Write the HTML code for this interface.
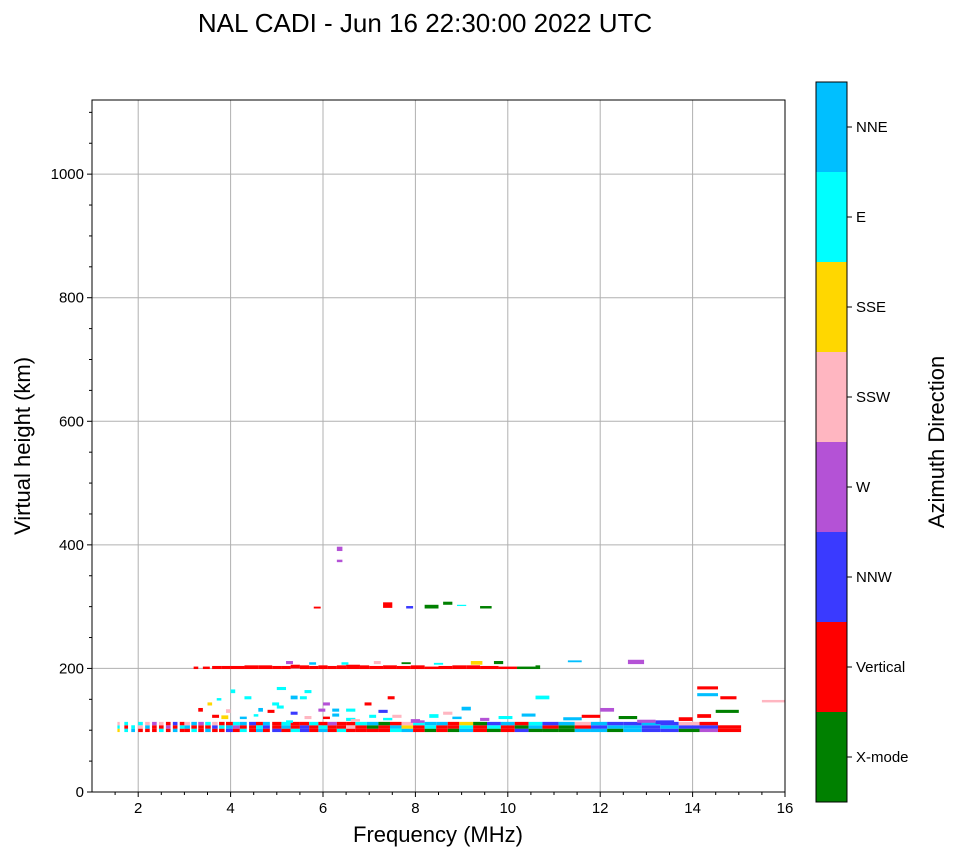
<!DOCTYPE html>
<html><head><meta charset="utf-8"><style>
body{margin:0;background:#fff;}
svg text{font-family:"Liberation Sans","DejaVu Sans",sans-serif;}
</style></head><body>
<svg id="chart" width="958" height="857" xmlns="http://www.w3.org/2000/svg">
<text x="425" y="32" font-size="26" text-anchor="middle">NAL CADI - Jun 16 22:30:00 2022 UTC</text>
<g id="grid"></g>
<g id="marks"></g>
<rect x="92" y="100" width="693" height="692" fill="none" stroke="#000" stroke-width="1"/>
<g id="axes"></g>
<text x="438" y="842" font-size="22" text-anchor="middle">Frequency (MHz)</text>
<text transform="translate(30,446) rotate(-90)" font-size="22" text-anchor="middle">Virtual height (km)</text>
<g id="cbar"></g>
<text transform="translate(944,442) rotate(-90)" font-size="22" text-anchor="middle">Azimuth Direction</text>
</svg>
<script>
const directions = ["X-mode","Vertical","NNW","W","SSW","SSE","E","NNE"];
const dirColors = ["#008000","#ff0000","#3a3aff","#b452d6","#ffb6c1","#ffd700","#00ffff","#00bfff"];
const xTicks = [2,4,6,8,10,12,14,16];
const yTicks = [0,200,400,600,800,1000];
// main low layer columns: start freq, width, stacked direction indices
const colF = [1.55,1.7,1.85,2.0,2.15,2.3,2.45,2.6,2.75,2.9,3.0,3.15,3.3,3.45,3.6,3.75,3.9,4.05,4.2,4.4,4.55,4.7,4.9,5.1,5.3,5.5,5.7,5.9,6.1,6.3,6.5,6.7,6.95,7.2,7.45,7.7,7.95,8.2,8.45,8.7,8.95,9.25,9.55,9.85,10.15,10.45,10.75,11.1,11.45,11.8,12.15,12.5,12.9,13.3,13.7,14.15,14.55];
const colW = [0.05,0.08,0.08,0.1,0.1,0.1,0.1,0.1,0.1,0.1,0.12,0.12,0.12,0.12,0.12,0.12,0.15,0.15,0.15,0.15,0.15,0.15,0.2,0.2,0.2,0.2,0.2,0.2,0.2,0.2,0.2,0.25,0.25,0.25,0.25,0.25,0.25,0.25,0.25,0.25,0.3,0.3,0.3,0.3,0.3,0.3,0.35,0.35,0.35,0.35,0.35,0.4,0.4,0.4,0.45,0.4,0.5];
const colDirs = [[5,6,4],[6,1,6],[7,6],[1,4,6],[1,7,4],[1,1,3],[6,1,4],[1,3,1],[7,1,2],[1,6,1],[1,7,4],[6,1,7],[1,1,3],[7,1,6],[1,2,4],[1,6,1],[2,7,1],[1,3,6],[6,1,7],[1,1,2],[7,6,1],[1,2,7],[2,1,1],[1,7,6],[6,1,1],[2,2,1],[1,1,6],[7,6,1],[1,1,3],[6,1,1],[1,4,1],[1,1,6],[1,0,7],[1,1,0],[6,7,1],[7,5,4],[1,1,6],[0,6,7],[1,1,7],[0,1,1],[7,6,5],[1,1,0],[0,6,2],[1,1,7],[2,0,1],[0,7,6],[0,1,2],[0,0,7],[7,1,4],[7,2,7],[0,7,2],[7,7,2],[2,2,7],[2,7,2],[0,2,4],[3,2,1],[1,1]];
// scattered cells: freq start, freq end, height low, height high, direction
const sF0 = [3.2,3.4,3.6,3.8,4.0,4.3,4.6,4.9,5.1,5.3,5.5,5.7,5.9,6.1,6.3,6.5,6.8,7.0,7.3,7.6,7.9,8.2,8.5,8.8,9.1,9.4,9.8,10.2,10.6,3.5,3.7,3.9,4.2,4.5,4.8,5.0,5.3,5.6,5.9,6.2,6.5,6.9,7.2,7.5,7.9,8.3,8.6,9.0,9.4,9.8,10.3,10.6,11.2,11.6,12.0,12.4,12.8,13.2,13.7,14.1,14.5,15.5,5.8,7.3,7.8,8.2,8.6,8.9,9.4,6.3,6.3,12.6,11.3,14.1,14.6,14.1,3.6,3.8,4.3,5.0,5.3,5.6,6.0,6.5,7.0,4.0,4.6,5.5,6.2,7.4,3.3,4.9,5.2,5.7,6.4,7.1,7.7,8.4,9.2,9.7,5.2,6.0,6.6,7.3,8.0,8.8];
const sF1 = [3.3,3.55,3.8,4.0,4.3,4.6,4.9,5.1,5.3,5.5,5.7,5.9,6.1,6.3,6.5,6.8,7.0,7.3,7.6,7.9,8.2,8.5,8.8,9.1,9.4,9.8,10.2,10.6,10.7,3.6,3.8,4.0,4.35,4.6,4.95,5.15,5.45,5.75,6.05,6.35,6.7,7.05,7.4,7.7,8.1,8.5,8.8,9.2,9.6,10.1,10.6,10.9,11.6,12.0,12.3,12.8,13.2,13.6,14.0,14.4,15.0,16.0,5.95,7.5,7.95,8.5,8.8,9.1,9.65,6.42,6.42,12.95,11.6,14.55,14.95,14.55,3.75,3.95,4.45,5.2,5.45,5.75,6.15,6.7,7.15,4.1,4.7,5.65,6.35,7.55,3.4,5.05,5.35,5.85,6.55,7.25,7.9,8.6,9.45,9.9,5.35,6.15,6.8,7.5,8.2,9.0];
const sH0 = [199,199,199,199,199,199,199,199,199,200,199,199,199,199,199,199,199,199,199,199,199,199,199,199,199,199,199,199,199,140,148,128,118,122,128,135,125,118,130,122,115,140,128,120,112,120,125,132,115,118,122,150,116,120,130,118,112,110,115,120,128,145,297,298,297,297,303,301,297,390,372,207,210,166,150,155,120,118,150,165,150,160,140,130,120,160,130,150,130,150,130,140,207,206,206,207,207,206,206,207,112,118,114,116,112,118];
const sH1 = [203,203,204,204,204,205,205,204,204,206,205,204,205,204,205,206,205,204,205,204,205,203,204,205,205,204,203,203,205,145,152,134,122,126,133,140,130,123,135,127,120,145,133,125,118,126,130,138,120,123,127,156,121,125,136,123,117,116,121,126,133,149,300,307,301,303,308,303,301,397,376,214,213,171,155,160,125,124,155,170,156,165,145,135,125,166,136,155,135,155,136,145,212,210,210,212,210,209,212,212,116,122,118,120,116,122];
const sDir = [1,1,1,1,1,1,1,1,1,1,1,1,1,1,1,1,1,1,1,1,1,1,1,1,1,1,1,0,0,5,6,4,7,6,1,6,2,4,3,7,6,1,2,4,3,6,4,7,3,6,7,6,7,1,3,0,3,2,1,1,0,4,1,1,2,0,0,6,0,3,3,3,7,1,1,7,1,5,6,6,7,6,3,6,6,6,7,6,7,1,1,6,3,7,6,4,0,6,5,0,6,1,4,6,3,7];

const X0=92,X1=785,Y0=792,Y1=100,XMIN=1,XMAX=16,YMIN=0,YMAX=1120;
const xs=f=>X0+(f-XMIN)/(XMAX-XMIN)*(X1-X0);
const ys=h=>Y0-(h-YMIN)/(YMAX-YMIN)*(Y0-Y1);
const NS="http://www.w3.org/2000/svg";
function mk(tag,parent){const e=document.createElementNS(NS,tag);parent.appendChild(e);return e;}
const grid=document.getElementById('grid'),axes=document.getElementById('axes'),marks=document.getElementById('marks'),cbar=document.getElementById('cbar');
xTicks.forEach(t=>{
  const x=xs(t);
  if(t<XMAX){const g=mk('line',grid);g.setAttribute('x1',x);g.setAttribute('x2',x);g.setAttribute('y1',Y1);g.setAttribute('y2',Y0);g.setAttribute('stroke','#b0b0b0');
  
  }
  const tk=mk('line',axes);tk.setAttribute('x1',x);tk.setAttribute('x2',x);tk.setAttribute('y1',Y0);tk.setAttribute('y2',Y0+5);tk.setAttribute('stroke','#000');
  
  
  const tx=mk('text',axes);tx.setAttribute('x',x);tx.setAttribute('y',Y0+21);tx.setAttribute('font-size','15');tx.setAttribute('text-anchor','middle');tx.textContent=t;
  
  
});
for(let m=1.5;m<XMAX;m+=0.5){if(Math.abs(m-Math.round(m/2)*2)<0.01)continue;const x=xs(m);const tk=mk('line',axes);tk.setAttribute('x1',x);tk.setAttribute('x2',x);tk.setAttribute('y1',Y0);tk.setAttribute('y2',Y0+3);tk.setAttribute('stroke','#000');
  
  }
yTicks.forEach(t=>{
  const y=ys(t);
  if(t>0){const g=mk('line',grid);g.setAttribute('x1',X0);g.setAttribute('x2',X1);g.setAttribute('y1',y);g.setAttribute('y2',y);g.setAttribute('stroke','#b0b0b0');
  
  }
  const tk=mk('line',axes);tk.setAttribute('x1',X0-5);tk.setAttribute('x2',X0);tk.setAttribute('y1',y);tk.setAttribute('y2',y);tk.setAttribute('stroke','#000');
  
  
  const tx=mk('text',axes);tx.setAttribute('x',X0-8);tx.setAttribute('y',y+5);tx.setAttribute('font-size','15');tx.setAttribute('text-anchor','end');tx.textContent=t;
  
  
});
for(let m=50;m<YMAX;m+=50){if(m%200===0)continue;const y=ys(m);const tk=mk('line',axes);tk.setAttribute('x1',X0-3);tk.setAttribute('x2',X0);tk.setAttribute('y1',y);tk.setAttribute('y2',y);tk.setAttribute('stroke','#000');
  
  }
function cell(f0,f1,h0,h1,d){
  const r=mk('rect',marks);
  r.setAttribute('x',xs(f0));r.setAttribute('width',Math.max(1,xs(f1)-xs(f0)));
  r.setAttribute('y',ys(h1));r.setAttribute('height',Math.max(1,ys(h0)-ys(h1)));
  r.setAttribute('fill',dirColors[d]);
  
  
}
colF.forEach((f,i)=>{
  const ds=colDirs[i];const base=97,step=5.5;
  ds.forEach((d,j)=>cell(f,f+colW[i],base+j*step,base+(j+1)*step,d));
});
sF0.forEach((f,i)=>cell(f,sF1[i],sH0[i],sH1[i],sDir[i]));
// colorbar
const CB_X=816,CB_W=31,CB_T=82,CB_B=802,segH=(CB_B-CB_T)/directions.length;
directions.forEach((name,i)=>{
  const yTop=CB_B-(i+1)*segH;
  const r=mk('rect',cbar);r.setAttribute('x',CB_X);r.setAttribute('y',yTop);r.setAttribute('width',CB_W);r.setAttribute('height',segH);r.setAttribute('fill',dirColors[i]);
  
  
  const yc=yTop+segH/2;
  const tk=mk('line',cbar);tk.setAttribute('x1',CB_X+CB_W);tk.setAttribute('x2',CB_X+CB_W+5);tk.setAttribute('y1',yc);tk.setAttribute('y2',yc);tk.setAttribute('stroke','#000');
  
  
  const tx=mk('text',cbar);tx.setAttribute('x',CB_X+CB_W+9);tx.setAttribute('y',yc+5);tx.setAttribute('font-size','15');tx.textContent=name;
  
  
});
const fr=mk('rect',cbar);fr.setAttribute('x',CB_X);fr.setAttribute('y',CB_T);fr.setAttribute('width',CB_W);fr.setAttribute('height',CB_B-CB_T);fr.setAttribute('fill','none');fr.setAttribute('stroke','#000');


</script>
</body></html>
